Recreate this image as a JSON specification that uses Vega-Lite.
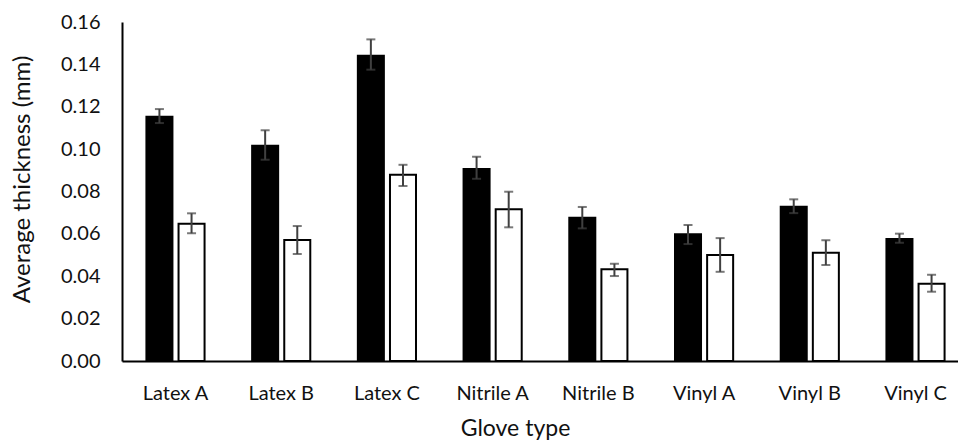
{
  "$schema": "https://vega.github.io/schema/vega-lite/v6.json",
  "autosize": "none",
  "width": 836,
  "height": 339,
  "padding": {"left": 122, "top": 22, "right": 0, "bottom": 81},
  "background": "white",
  "config": {
    "view": {"stroke": null},
    "font": "Lato",
    "axis": {"grid": false, "ticks": false, "tickSize": 0, "domainColor": "black", "domainWidth": 2, "labelColor": "#111", "titleColor": "#111", "labelFont": "Lato", "titleFont": "Lato", "titleFontWeight": "normal"}
  },
  "data": {
    "values": [
      {"glove": "Latex A", "series": "Series 1", "mean": 0.1153, "lo": 0.1123, "hi": 0.1189},
      {"glove": "Latex A", "series": "Series 2", "mean": 0.0648, "lo": 0.0603, "hi": 0.0697},
      {"glove": "Latex B", "series": "Series 1", "mean": 0.1016, "lo": 0.0950, "hi": 0.1089},
      {"glove": "Latex B", "series": "Series 2", "mean": 0.0571, "lo": 0.0505, "hi": 0.0637},
      {"glove": "Latex C", "series": "Series 1", "mean": 0.1441, "lo": 0.1375, "hi": 0.1518},
      {"glove": "Latex C", "series": "Series 2", "mean": 0.0879, "lo": 0.0826, "hi": 0.0926},
      {"glove": "Nitrile A", "series": "Series 1", "mean": 0.0906, "lo": 0.0860, "hi": 0.0964},
      {"glove": "Nitrile A", "series": "Series 2", "mean": 0.0716, "lo": 0.0631, "hi": 0.0799},
      {"glove": "Nitrile B", "series": "Series 1", "mean": 0.0676, "lo": 0.0626, "hi": 0.0727},
      {"glove": "Nitrile B", "series": "Series 2", "mean": 0.0433, "lo": 0.0401, "hi": 0.0459},
      {"glove": "Vinyl A", "series": "Series 1", "mean": 0.0598, "lo": 0.0552, "hi": 0.0642},
      {"glove": "Vinyl A", "series": "Series 2", "mean": 0.0500, "lo": 0.0421, "hi": 0.0580},
      {"glove": "Vinyl B", "series": "Series 1", "mean": 0.0728, "lo": 0.0698, "hi": 0.0763},
      {"glove": "Vinyl B", "series": "Series 2", "mean": 0.0511, "lo": 0.0453, "hi": 0.0570},
      {"glove": "Vinyl C", "series": "Series 1", "mean": 0.0576, "lo": 0.0558, "hi": 0.0601},
      {"glove": "Vinyl C", "series": "Series 2", "mean": 0.0365, "lo": 0.0327, "hi": 0.0407}
    ]
  },
  "encoding": {
    "x": {
      "field": "glove", "type": "nominal", "sort": null,
      "scale": {"paddingInner": 0.45, "paddingOuter": 0.231, "range": [0, 847]},
      "axis": {"title": "Glove type", "labelAngle": 0, "labelFontSize": 20, "labelPadding": 22, "titleFontSize": 23, "titlePadding": 14, "titleX": 393}
    },
    "xOffset": {"field": "series", "type": "nominal", "sort": null, "scale": {"paddingInner": 0.19, "paddingOuter": 0}}
  },
  "layer": [
    {
      "mark": {"type": "bar", "stroke": "black", "strokeWidth": 2},
      "encoding": {
        "y": {
          "field": "mean", "type": "quantitative",
          "scale": {"domain": [0, 0.16], "nice": false},
          "axis": {"title": "Average thickness (mm)", "format": ".2f", "values": [0, 0.02, 0.04, 0.06, 0.08, 0.1, 0.12, 0.14, 0.16], "labelFontSize": 20, "labelPadding": 22, "titleFontSize": 24, "titleX": -88, "titleY": 157, "titleAngle": -90, "titleBaseline": "bottom", "titleAlign": "center"}
        },
        "fill": {"field": "series", "type": "nominal", "scale": {"domain": ["Series 1", "Series 2"], "range": ["black", "white"]}, "legend": null}
      }
    },
    {
      "mark": {"type": "rule", "color": "#404040", "strokeWidth": 2},
      "encoding": {
        "y": {"field": "lo", "type": "quantitative"},
        "y2": {"field": "hi"}
      }
    },
    {
      "mark": {"type": "tick", "color": "#404040", "thickness": 2, "size": 9},
      "encoding": {"y": {"field": "lo", "type": "quantitative"}}
    },
    {
      "mark": {"type": "tick", "color": "#404040", "thickness": 2, "size": 9},
      "encoding": {"y": {"field": "hi", "type": "quantitative"}}
    }
  ]
}
